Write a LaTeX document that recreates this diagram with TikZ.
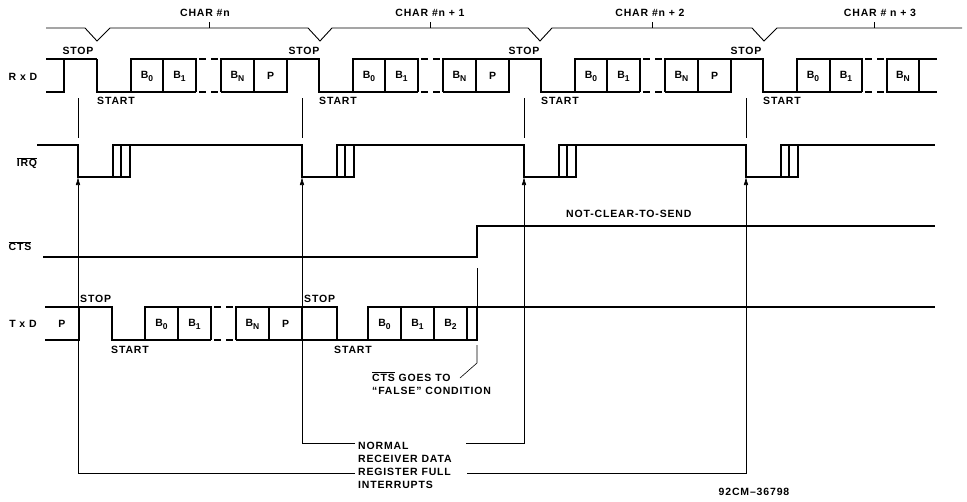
\documentclass[tikz,border=0pt]{standalone}
\usepackage{fontspec}
\usepackage{tikz}
\usetikzlibrary{arrows.meta, positioning}
\newfontfamily\lblfont{Liberation Sans}[LetterSpace=8]
\newcommand{\bsub}[2]{#1\raisebox{-0.55ex}{\fontsize{8.5}{9}\selectfont #2}}

\begin{document}
\begin{tikzpicture}[
    x=1pt, y=-1pt,
    lbl/.style={font=\lblfont\bfseries\fontsize{10.5}{13}\selectfont, inner sep=0pt},
    sig/.style={line width=1.7pt},
    dsig/.style={sig, dash pattern=on 7pt off 5pt},
    guide/.style={line width=0.6pt},
    arrow/.style={guide, -{Latex[length=8pt,width=4.5pt]}},
    bracket/.style={line width=0.9pt}
]
\useasboundingbox (0,0) rectangle (967,501);

% Character brackets
\draw[bracket] (46,28) -- (85,28) -- (97,41) -- (110,28) -- (308,28) -- (320,41) -- (332,28)
    -- (528,28) -- (540,41) -- (552,28) -- (752,28) -- (764,41) -- (777,28) -- (962,28);
\foreach \t in {209,430,652,874} \draw[bracket] (\t,22) -- (\t,28);
\node[lbl] (char0) at (205,13) {CHAR \#n};
\node[lbl] (char1) at (430,13) {CHAR \#n + 1};
\node[lbl] (char2) at (650,13) {CHAR \#n + 2};
\node[lbl] (char3) at (880,13) {CHAR \# n + 3};

% Signal names
\node[lbl] (rxd) at (23,77) {R x D};
\node[lbl] (irq) at (27,163) {$\overline{\mbox{IRQ}}$};
\node[lbl] (cts) at (20,246) {$\overline{\mbox{CTS}}$};
\node[lbl] (txd) at (23,324) {T x D};

% RxD line
\draw[sig] (46,59) -- (97,59);
\draw[sig] (46,92) -- (64,92) -- (64,59);
\foreach \s in {97,319,541} {
  \draw[sig] (\s,59) -- (\s,92) -- (\s+99,92);
  \draw[sig] (\s+34,92) -- (\s+34,59) -- (\s+99,59) -- (\s+99,92);
  \draw[sig] (\s+66,59) -- (\s+66,92);
  \draw[dsig] (\s+102,59) -- (\s+121,59);
  \draw[dsig] (\s+102,92) -- (\s+121,92);
  \draw[sig] (\s+124,92) -- (\s+124,59) -- (\s+223,59);
  \draw[sig] (\s+124,92) -- (\s+190,92) -- (\s+190,59);
  \draw[sig] (\s+157,59) -- (\s+157,92);
  \node[lbl] (rb0-\s) at (\s+50,76) {\bsub{B}{0}};
  \node[lbl] (rb1-\s) at (\s+82.5,76) {\bsub{B}{1}};
  \node[lbl] (rbn-\s) at (\s+140.5,76) {\bsub{B}{N}};
  \node[lbl] (rp-\s) at (\s+173.5,76) {P};
  \node[lbl, anchor=west] (rstart-\s) at (\s,101) {START};
}
\draw[sig] (763,59) -- (763,92) -- (862,92);
\draw[sig] (797,92) -- (797,59) -- (862,59) -- (862,92);
\draw[sig] (830,59) -- (830,92);
\draw[dsig] (865,59) -- (884,59);
\draw[dsig] (865,92) -- (884,92);
\draw[sig] (937,59) -- (887,59) -- (887,92) -- (937,92);
\draw[sig] (919,59) -- (919,92);
\node[lbl] (rb0-763) at (813,76) {\bsub{B}{0}};
\node[lbl] (rb1-763) at (846,76) {\bsub{B}{1}};
\node[lbl] (rbn-763) at (903,76) {\bsub{B}{N}};
\node[lbl, anchor=west] (rstart-763) at (763,101) {START};
\node[lbl] (rstop1) at (78,51) {STOP};
\node[lbl] (rstop2) at (304,51) {STOP};
\node[lbl] (rstop3) at (524,51) {STOP};
\node[lbl] (rstop4) at (746,51) {STOP};

% IRQ line
\draw[sig] (37,145) \foreach \f in {78,302,524,746} { -- (\f,145) -- (\f,177) -- (\f+52,177) -- (\f+52,145) } -- (935,145);
\foreach \f in {78,302,524,746} {
  \draw[sig] (\f+35,177) -- (\f+35,145) -- (\f+52,145);
  \draw[sig] (\f+43,177) -- (\f+43,145);
}

% CTS line
\draw[sig] (43,257) -- (477,257) -- (477,226) -- (935,226);
\node[lbl, anchor=west] (ncts) at (566,214) {NOT-CLEAR-TO-SEND};

% TxD line
\draw[sig] (45,307) -- (112,307) -- (112,340) -- (211,340);
\draw[sig] (45,340) -- (79,340) -- (79,307);
\draw[sig] (145,340) -- (145,307) -- (211,307) -- (211,340);
\draw[sig] (178,307) -- (178,340);
\draw[dsig] (214,307) -- (233,307);
\draw[dsig] (214,340) -- (233,340);
\draw[sig] (236,340) -- (236,307) -- (337,307) -- (337,340);
\draw[sig] (236,340) -- (477,340) -- (477,307);
\draw[sig] (368,340) -- (368,307) -- (935,307);
\foreach \v in {269,302,401,434,467} \draw[sig] (\v,307) -- (\v,340);
\node[lbl] (tp0) at (62,324) {P};
\node[lbl] (tb0) at (161.5,324) {\bsub{B}{0}};
\node[lbl] (tb1) at (194.5,324) {\bsub{B}{1}};
\node[lbl] (tbn) at (252.5,324) {\bsub{B}{N}};
\node[lbl] (tp1) at (285.5,324) {P};
\node[lbl] (tb0b) at (384.5,324) {\bsub{B}{0}};
\node[lbl] (tb1b) at (417.5,324) {\bsub{B}{1}};
\node[lbl] (tb2b) at (450.5,324) {\bsub{B}{2}};
\node[lbl, anchor=west] (tstop1) at (80,299) {STOP};
\node[lbl, anchor=west] (tstop2) at (304,299) {STOP};
\node[lbl, anchor=west] (tstart1) at (111,350) {START};
\node[lbl, anchor=west] (tstart2) at (334,350) {START};

% CTS goes false
\node[lbl, anchor=west, align=left] (ctsnote) at (372,383) {$\overline{\mbox{CTS}}$ GOES TO\\“FALSE” CONDITION};
\coordinate (ctsrise) at (477,268);
\coordinate (ctsbend) at (477,363);
\coordinate (ctsend) at (460,378);
\draw[guide] (ctsrise) -- (477,307);
\draw[guide] (477,345) -- (ctsbend) -- (ctsend);

% Interrupt markers
\foreach \g in {78,302,524,746} \draw[guide] (\g,98) -- (\g,138);
\node[lbl, anchor=west, align=left] (intr) at (358,465.5) {NORMAL\\RECEIVER DATA\\REGISTER FULL\\INTERRUPTS};
\coordinate (irq1) at (78,177);
\coordinate (irq2) at (302,177);
\coordinate (irq3) at (524,177);
\coordinate (irq4) at (746,177);
\coordinate (inl) at (355,443);
\coordinate (inr) at (466,443);
\coordinate (outl) at (355,473);
\coordinate (outr) at (467,473);
\draw[arrow] (inl) -| (irq2);
\draw[arrow] (inr) -| (irq3);
\draw[arrow] (outl) -| (irq1);
\draw[arrow] (outr) -| (irq4);

\node[lbl] (figno) at (754,492) {92CM–36798};

\end{tikzpicture}
\end{document}
